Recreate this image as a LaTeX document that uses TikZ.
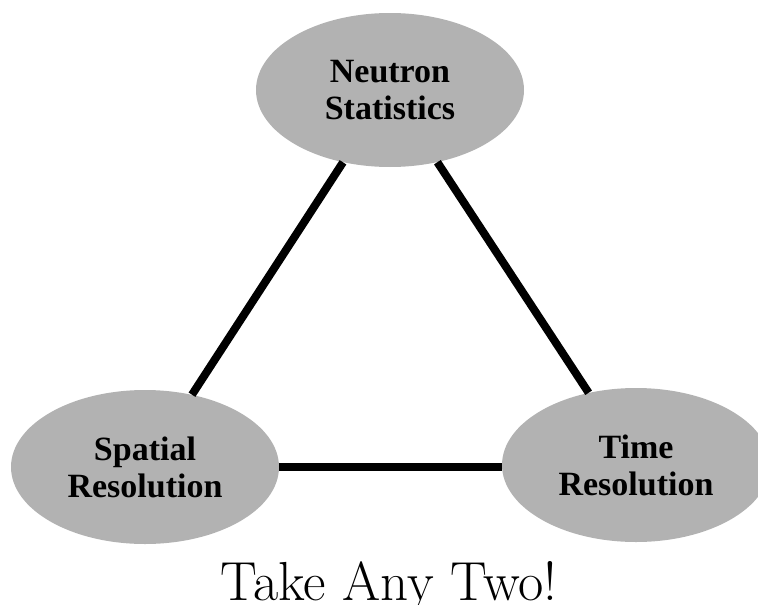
\documentclass[tikz,border=0pt]{standalone}
\usepackage{fontspec}
\setmainfont{Liberation Serif}
\newfontfamily\lmfont{Latin Modern Roman}
\usetikzlibrary{shapes.geometric}
\tikzset{
  topic/.style={ellipse, fill=black!30, draw=none, inner sep=0pt,
    minimum width=268pt, minimum height=154pt, align=center,
    font=\fontsize{34}{37}\selectfont\bfseries},
  link/.style={line width=8pt, black}
}
\begin{document}
\begin{tikzpicture}[x=1pt,y=-1pt]
\useasboundingbox (0,0) rectangle (758,605);
\node[topic] (ns) at (390,90) {Neutron\\Statistics};
\node[topic] (sr) at (145,467) {Spatial\\Resolution};
\node[topic] (tr) at (636,465) {Time\\Resolution};
\draw[link] (ns) -- (sr);
\draw[link] (ns) -- (tr);
\draw[link] (sr.east) -- (tr.west |- sr.east);
\node[font=\lmfont\fontsize{55}{60}\selectfont, inner sep=0pt, anchor=base] (cap) at (389,600) {Take Any Two!};
\end{tikzpicture}
\end{document}
